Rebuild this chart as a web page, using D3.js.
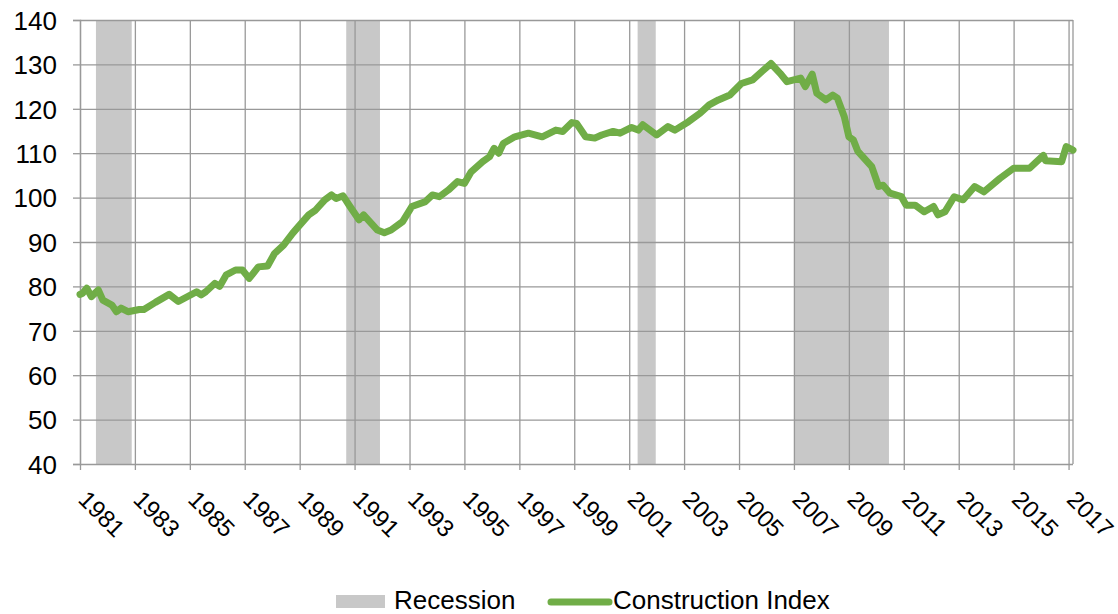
<!DOCTYPE html>
<html>
<head>
<meta charset="utf-8">
<script src="https://cdn.jsdelivr.net/npm/d3@7"></script>
<style>
  html, body { margin: 0; padding: 0; background: #fff; }
  svg { display: block; font-family: "Liberation Sans", Arial, sans-serif; }
</style>
</head>
<body>
<div id="chart"></div>
<script>
'use strict';

// construction index
var dates = [
	'1981-01', '1981-02', '1981-04', '1981-06', '1981-09', '1981-11',
	'1982-03', '1982-05', '1982-07', '1982-10',
	'1983-03', '1983-05', '1983-10',
	'1984-04', '1984-08',
	'1985-04', '1985-06', '1985-08', '1985-12',
	'1986-02', '1986-05', '1986-09', '1986-12',
	'1987-03', '1987-07', '1987-11',
	'1988-02', '1988-06', '1988-10',
	'1989-01', '1989-05', '1989-08', '1989-12',
	'1990-03', '1990-05', '1990-08', '1990-11',
	'1991-03', '1991-05', '1991-11',
	'1992-02', '1992-05', '1992-10',
	'1993-02', '1993-08', '1993-11',
	'1994-02', '1994-06', '1994-10',
	'1995-01', '1995-04', '1995-09', '1995-12',
	'1996-02', '1996-04', '1996-06', '1996-11',
	'1997-05', '1997-11',
	'1998-05', '1998-08', '1998-12',
	'1999-02', '1999-06', '1999-10',
	'2000-01', '2000-06', '2000-09',
	'2001-02', '2001-05', '2001-07',
	'2002-01', '2002-06', '2002-09',
	'2003-03', '2003-08', '2003-12',
	'2004-04', '2004-09',
	'2005-02', '2005-07', '2005-11',
	'2006-03', '2006-07', '2006-10',
	'2007-04', '2007-06', '2007-09', '2007-11',
	'2008-03', '2008-06', '2008-08', '2008-11',
	'2009-01', '2009-03', '2009-05', '2009-11',
	'2010-02', '2010-04', '2010-07', '2010-12',
	'2011-02', '2011-06', '2011-10',
	'2012-02', '2012-04', '2012-07', '2012-11',
	'2013-03', '2013-08', '2013-12',
	'2014-07',
	'2015-01', '2015-08',
	'2016-02', '2016-03', '2016-10', '2016-12',
	'2017-03'
];
var values = [
	78.2, 78.4, 79.6, 77.7, 79.2, 76.9,
	75.8, 74.3, 75.1, 74.3,
	74.8, 74.8, 76.4,
	78.2, 76.6,
	78.8, 78.1, 78.8, 80.7,
	80.0, 82.6, 83.7, 83.7,
	81.8, 84.4, 84.6,
	87.4, 89.3, 92.0,
	93.8, 96.1, 97.2, 99.5,
	100.6, 99.8, 100.4, 98.0,
	95.0, 96.1, 92.7,
	92.1, 92.7, 94.6,
	98.0, 99.1, 100.6,
	100.2, 101.7, 103.6,
	103.2, 105.8, 108.1, 109.2,
	111.1, 110.0, 112.2, 113.7,
	114.5, 113.7,
	115.2, 114.9, 116.9,
	116.7, 113.7, 113.4,
	114.1, 114.9, 114.5,
	115.8, 115.2, 116.4,
	114.1, 116.0, 115.2,
	117.1, 119.0, 120.9,
	122.0, 123.1,
	125.7, 126.5, 128.4,
	130.2, 128.0, 126.1,
	126.9, 125.0, 127.8, 123.5,
	122.0, 123.1, 122.4, 118.2,
	113.7, 113.0, 110.4, 107.0,
	102.5, 102.8, 101.0, 100.2,
	98.3, 98.3, 96.8,
	98.0, 96.1, 96.8, 100.2,
	99.5, 102.5, 101.3,
	104.3,
	106.6, 106.6,
	109.5, 108.3, 108.1, 111.5,
	110.7
];

// shaded recession periods
var recessionStarts = ['1981-08-01', '1990-09-12', '2001-04-23', '2007-01-01'];
var recessionEnds = ['1982-11-20', '1991-12-05', '2001-12-20', '2010-06-18'];

var xTickLabels = ['1981', '1983', '1985', '1987', '1989', '1991', '1993', '1995', '1997',
	'1999', '2001', '2003', '2005', '2007', '2009', '2011', '2013', '2015', '2017'];
var yTickValues = [40, 50, 60, 70, 80, 90, 100, 110, 120, 130, 140];

var seriesName = 'Construction Index';
var recessionName = 'Recession';

var W = 1118, H = 614;
var plotLeft = 80, plotRight = 1073, plotTop = 20, plotBottom = 464;
var green = '#70ad47', shade = '#c8c8c8', gridColor = '#999999';
var fontSize = '26px';

var parseMonth = d3.timeParse('%Y-%m');
var parseDay = d3.timeParse('%Y-%m-%d');

var data = dates.map(function (d, i) { return { date: parseMonth(d), value: values[i] }; });
var recessions = recessionStarts.map(function (s, i) {
	return { start: parseDay(s), end: parseDay(recessionEnds[i]) };
});

var x = d3.scaleTime()
	.domain([parseMonth('1981-01'), parseMonth('2017-03')])
	.range([plotLeft, plotRight]);
var y = d3.scaleLinear().domain([40, 140]).range([plotBottom, plotTop]);

var svg = d3.select('#chart').append('svg')
	.attr('width', W)
	.attr('height', H);

svg.selectAll('rect.rec')
	.data(recessions)
	.enter()
	.append('rect')
	.attr('class', 'rec')
	.attr('x', function (d) { return x(d.start); })
	.attr('width', function (d) { return x(d.end) - x(d.start); })
	.attr('y', plotTop)
	.attr('height', plotBottom - plotTop)
	.style('fill', shade);

var xTicks = xTickLabels.map(function (t) { return d3.timeParse('%Y')(t); });

// vertical grid + ticks below the axis
svg.append('g')
	.attr('transform', 'translate(0,' + plotBottom + ')')
	.call(d3.axisBottom(x).tickValues(xTicks).tickSize(-(plotBottom - plotTop)).tickFormat(''))
	.call(function (g) {
		g.select('.domain').remove();
		g.selectAll('line').attr('stroke', gridColor).attr('stroke-width', 1.3);
	});
svg.append('g')
	.attr('transform', 'translate(0,' + plotBottom + ')')
	.call(d3.axisBottom(x).tickValues(xTicks).tickSize(6).tickFormat(''))
	.call(function (g) {
		g.select('.domain').remove();
		g.selectAll('line').attr('stroke', gridColor).attr('stroke-width', 1.3);
	});

// horizontal grid
svg.append('g')
	.attr('transform', 'translate(' + plotLeft + ',0)')
	.call(d3.axisLeft(y).tickValues(yTickValues).tickSize(-(plotRight - plotLeft)).tickFormat(''))
	.call(function (g) {
		g.select('.domain').remove();
		g.selectAll('line').attr('stroke', gridColor).attr('stroke-width', 1.3);
	});

// y-axis with small ticks and labels
svg.append('g')
	.attr('transform', 'translate(' + plotLeft + ',0)')
	.call(d3.axisLeft(y).tickValues(yTickValues).tickSize(7).tickPadding(16))
	.call(function (g) {
		g.select('.domain').attr('stroke', gridColor).attr('stroke-width', 1.3);
		g.selectAll('line').attr('stroke', gridColor).attr('stroke-width', 1.3);
		g.selectAll('text')
			.attr('dy', '0.36em')
			.style('font-size', fontSize)
			.style('fill', '#000')
			.style('font-family', '"Liberation Sans", Arial, sans-serif');
	});

// right border
svg.append('line')
	.attr('x1', plotRight).attr('x2', plotRight)
	.attr('y1', plotTop).attr('y2', plotBottom)
	.attr('stroke', gridColor).attr('stroke-width', 1.3);

// rotated year labels
svg.append('g')
	.selectAll('text')
	.data(xTicks)
	.enter()
	.append('text')
	.attr('transform', function (d) { return 'translate(' + (x(d) - 3) + ',' + (plotBottom + 37) + ') rotate(45)'; })
	.style('font-size', '24px')
	.style('fill', '#000')
	.text(function (d, i) { return xTickLabels[i]; });

var line = d3.line()
	.x(function (d) { return x(d.date); })
	.y(function (d) { return y(d.value); });

svg.append('path')
	.datum(data)
	.attr('d', line)
	.style('fill', 'none')
	.style('stroke', green)
	.style('stroke-width', 7)
	.style('stroke-linejoin', 'round')
	.style('stroke-linecap', 'round');

// legend
var leg = svg.append('g');
leg.append('rect')
	.attr('x', 336).attr('y', 595)
	.attr('width', 49).attr('height', 13)
	.style('fill', shade);
leg.append('text')
	.attr('x', 394).attr('y', 609)
	.style('font-size', fontSize)
	.text(recessionName);
leg.append('line')
	.attr('x1', 551).attr('x2', 609)
	.attr('y1', 602).attr('y2', 602)
	.style('stroke', green)
	.style('stroke-width', 7)
	.style('stroke-linecap', 'round');
leg.append('text')
	.attr('x', 613).attr('y', 609)
	.style('font-size', fontSize)
	.text(seriesName);
</script>
</body>
</html>
